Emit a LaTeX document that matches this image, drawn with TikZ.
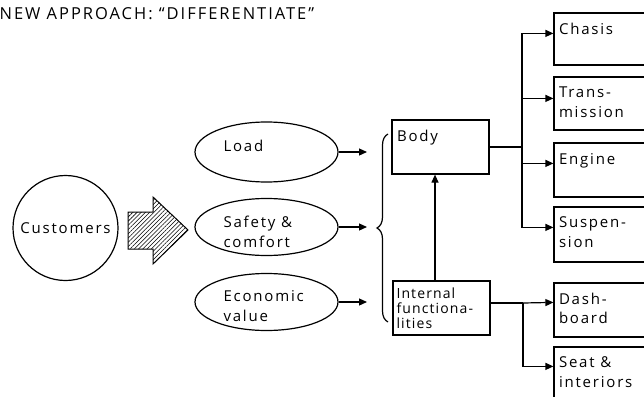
\documentclass[tikz,border=0pt]{standalone}
\usepackage{fontspec}
\setmainfont{Open Sans}[LetterSpace=12]
\usetikzlibrary{arrows.meta,patterns.meta,shapes.geometric,decorations.pathreplacing}

\tikzset{
  arr/.style={-{Triangle[length=8pt,width=7pt]}},
  txt/.style={font=\fontsize{15}{19.5}\selectfont},
  small/.style={font=\fontsize{14}{15}\selectfont\addfontfeatures{LetterSpace=8}},
  oval/.style={draw, ellipse, inner sep=0pt, minimum width=143pt},
  ovaltext/.style={anchor=west, inner sep=0pt, align=left, txt, xshift=28.5pt},
  box/.style={draw, rectangle, inner sep=0pt},
  rbox/.style={box, minimum width=106pt},
  tagbase/.style={anchor=north west, inner sep=0pt, align=left},
  tag/.style={tagbase, txt, xshift=5pt, yshift=-10pt},
  smalltag/.style={tagbase, small, xshift=3.5pt, yshift=-7pt},
}

\begin{document}
\begin{tikzpicture}[x=1pt, y=-1pt, line width=1.2pt]
\useasboundingbox (0,0) rectangle (644,396);
\clip (0,0) rectangle (644,396);

% heading
\node[anchor=base west, inner sep=0pt, font=\fontsize{16.5}{20}\selectfont] (title) at (-1,20)
  {NEW APPROACH: “DIFFERENTIATE”};

% customers and the hatched push arrow
\node[draw, circle, minimum size=105pt, inner sep=0pt, txt] (cust) at (65.5,228) {Customers};
\draw[line width=1pt, pattern={Lines[angle=45, distance=3pt, line width=0.6pt]}]
  (128,212) -- (153,212) -- (153,197) -- (188,230) -- (153,264) -- (153,249) -- (128,249) -- cycle;

% customer needs
\node[oval, minimum height=60pt,
  label={[ovaltext, yshift=6pt]west:Load}] (load) at (266.5,152) {};
\node[oval, minimum height=57pt,
  label={[ovaltext, yshift=-5pt]west:Safety \&\\comfort}] (safety) at (266.5,227) {};
\node[oval, minimum height=57pt,
  label={[ovaltext, yshift=-4pt]west:Economic\\value}] (econ) at (266.5,302) {};

\coordinate (bx) at (367,0);
\draw[arr] (load.east) -- (load.east -| bx);
\draw[arr] (safety.east) -- (safety.east -| bx);
\draw[arr] (econ.east) -- (econ.east -| bx);

% grouping brace
\draw[decorate, decoration={brace, amplitude=11pt}] (388,322) -- (388,134);

% body and internal functionalities
\node[box, minimum width=97pt, minimum height=54pt,
  label={[tag]north west:Body}] (body) at (440.5,147) {};
\node[box, minimum width=97pt, minimum height=54pt,
  label={[smalltag]north west:Internal\\functiona-\\lities}] (internal) at (441.5,308) {};

\coordinate (upx) at (435,0);
\draw[arr] (internal.north -| upx) -- (body.south -| upx);

% components
\node[rbox, minimum height=52pt, label={[tag]north west:Chasis}] (chasis) at (607,39) {};
\node[rbox, minimum height=53pt, label={[tag]north west:Trans-\\mission}] (trans) at (607,103.5) {};
\node[rbox, minimum height=54pt, label={[tag]north west:Engine}] (engine) at (607,170) {};
\node[rbox, minimum height=55pt, label={[tag]north west:Suspen-\\sion}] (susp) at (607,234.5) {};
\node[rbox, minimum height=54pt, label={[tag]north west:Dash-\\board}] (dash) at (607,310) {};
\node[rbox, minimum height=54pt, label={[tag]north west:Seat \&\\interiors}] (seat) at (607,374) {};

% body branches
\coordinate (bus) at (522,147);
\draw (body.east) -- (bus);
\draw[arr] (bus) |- ([yshift=-21pt]chasis.north west);
\draw[arr] (bus) |- ([yshift=-22pt]trans.north west);
\draw[arr] (bus) |- ([yshift=-21pt]engine.north west);
\draw[arr] (bus) |- ([yshift=-21pt]susp.north west);

% interior branches
\coordinate (fork) at (523,303);
\draw ([yshift=5pt]internal.east) -- (fork);
\draw[arr] (fork) -- ([yshift=-20pt]dash.north west);
\draw[arr] (fork) |- ([yshift=-20pt]seat.north west);
\end{tikzpicture}
\end{document}
